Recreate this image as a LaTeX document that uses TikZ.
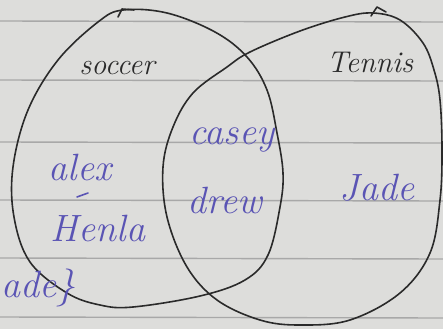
\documentclass[tikz,border=0pt]{standalone}
\usetikzlibrary{positioning}
\definecolor{paper}{RGB}{221,221,219}
\definecolor{ruling}{RGB}{168,168,168}
\definecolor{pencil}{RGB}{42,42,42}
\definecolor{ink}{RGB}{90,84,180}

\begin{document}
\begin{tikzpicture}[x=1pt, y=-1pt,
  loopline/.style={draw=pencil, line width=1.6pt, line cap=round, line join=round},
  ruleline/.style={draw=ruling, line width=1.4pt},
  penlabel/.style={text=pencil, inner sep=0pt, font=\fontsize{30}{34}\selectfont\itshape},
  inklabel/.style={text=ink, inner sep=0pt, font=\fontsize{38}{42}\selectfont\itshape}]
% paper and ruling
\fill[paper] (0,0) rectangle (443,329);
\useasboundingbox (0,0) rectangle (443,329);
\foreach \ry in {21,80,142,200,258,317}
  \draw[ruleline] (0,\ry) -- (443,\ry+1);
% soccer loop
\draw[loopline] plot[smooth cycle, tension=0.6] coordinates {
  (123,10) (167,13) (215,32) (247,57) (267,90) (277,133) (283,173)
  (280,207) (268,255) (245,280) (200,296) (133,307) (100,305)
  (67,293) (30,262) (14,217) (13,167) (28,110) (58,60) (98,22)};
\draw[loopline] (118,17) -- (122,9) -- (134,10);
% tennis loop
\draw[loopline] plot[smooth cycle, tension=0.6] coordinates {
  (373,13) (400,20) (423,43) (434,70) (440,100) (442,150) (440,200)
  (430,253) (400,293) (350,320) (300,325) (260,320) (217,300)
  (187,267) (167,217) (163,167) (173,127) (193,93) (227,67)
  (250,52) (300,31) (345,17)};
\draw[loopline] (371,16) -- (377,7) -- (386,12);
% labels
\node[penlabel] (soccer) at (117,68) {soccer};
\node[penlabel] (tennis) at (370,62) {Tennis};
\node[inklabel] (alex) at (80,168) {alex};
\draw[ink, line width=1.6pt, line cap=round] (77,197) -- (88,193);
\node[inklabel] (henla) at (98,228) {Henla};
\node[inklabel] (casey) at (232,140) {casey};
\node[inklabel] (drew) at (225,200) {drew};
\node[inklabel] (jade) at (377,188) {Jade};
\node[inklabel, anchor=west] (cut) at (1,288) {ade\}};
\end{tikzpicture}
\end{document}
